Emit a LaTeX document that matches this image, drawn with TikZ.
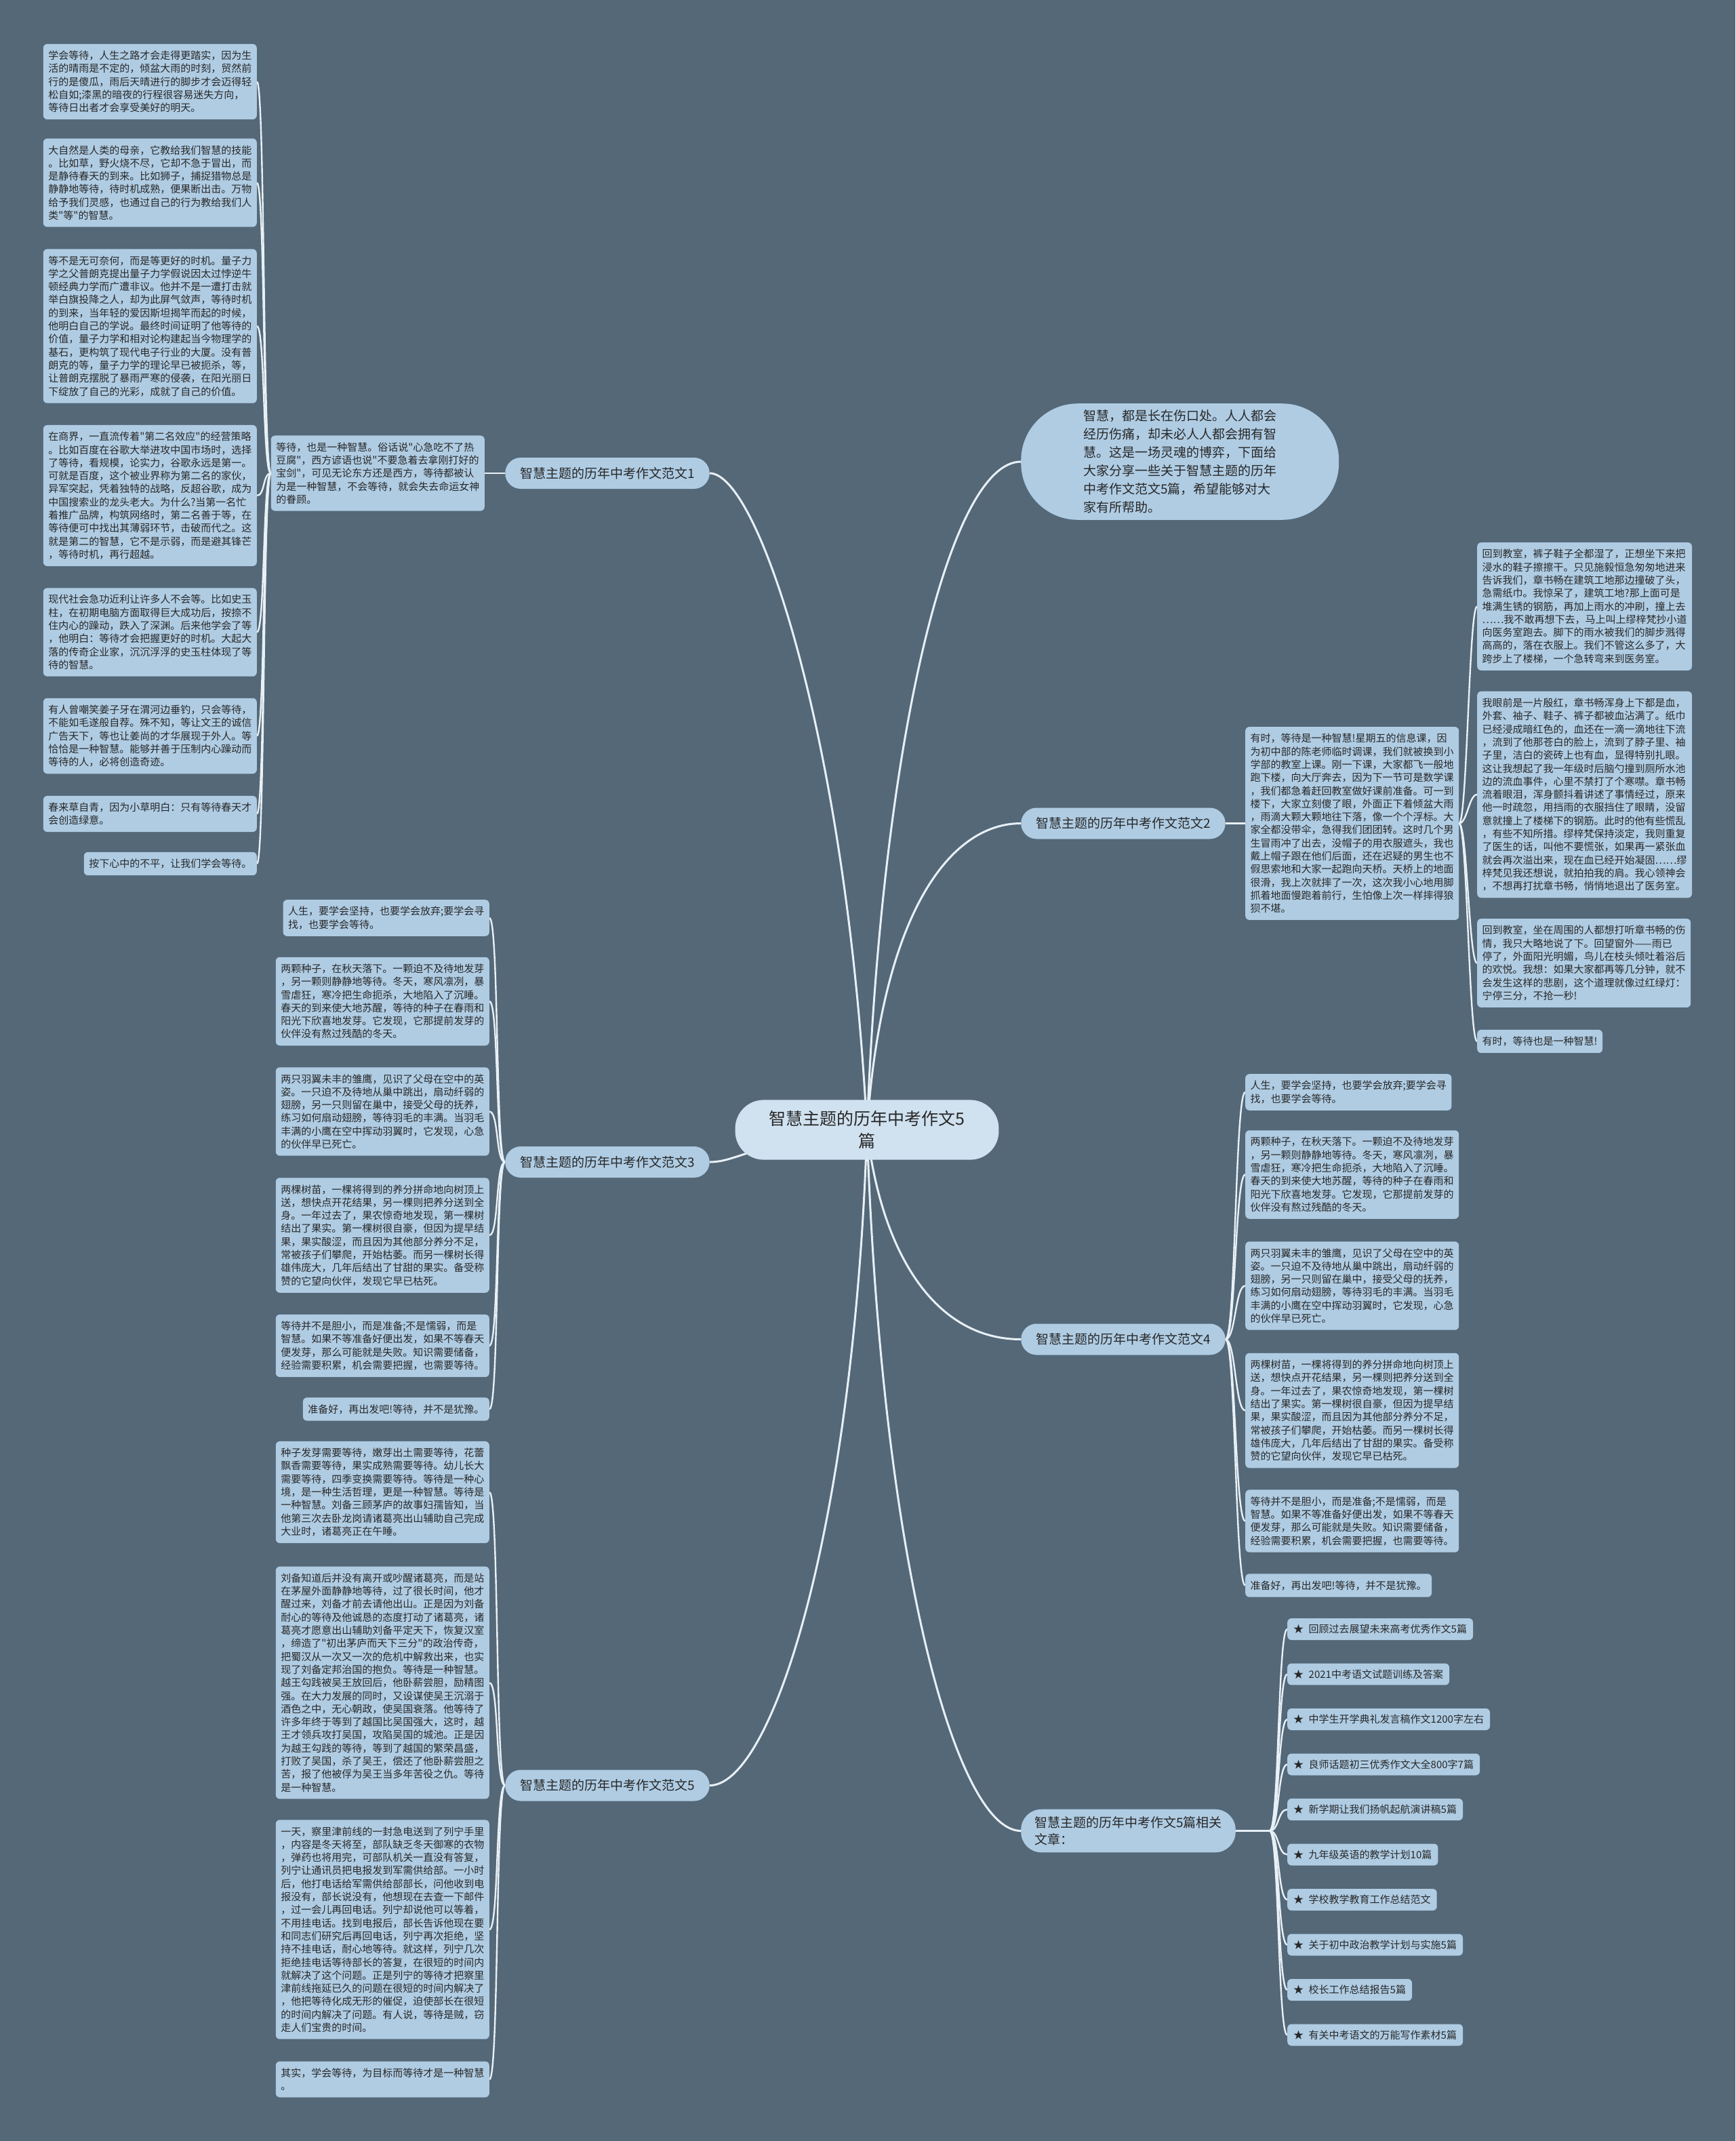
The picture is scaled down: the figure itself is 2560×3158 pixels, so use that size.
\documentclass[tikz,border=0pt]{standalone}
\usepackage{fontspec}
\newfontfamily\cjk{Noto Sans CJK SC}
\definecolor{bgslate}{RGB}{84,104,120}
\definecolor{leafblue}{RGB}{175,204,227}
\definecolor{hubblue}{RGB}{208,226,240}
\definecolor{inkgray}{RGB}{40,40,40}
\definecolor{wire}{RGB}{232,240,246}
\pgfdeclarelayer{wires}
\pgfsetlayers{wires,main}
% texts shared by branch 3 and branch 4
\newcommand\txtlife{人生，要学会坚持，也要学会放弃;要学会寻\\找，也要学会等待。}
\newcommand\txtseeds{两颗种子，在秋天落下。一颗迫不及待地发芽\\，另一颗则静静地等待。冬天，寒风凛冽，暴\\雪虐狂，寒冷把生命扼杀，大地陷入了沉睡。\\春天的到来使大地苏醒，等待的种子在春雨和\\阳光下欣喜地发芽。它发现，它那提前发芽的\\伙伴没有熬过残酷的冬天。}
\newcommand\txteagles{两只羽翼未丰的雏鹰，见识了父母在空中的英\\姿。一只迫不及待地从巢中跳出，扇动纤弱的\\翅膀，另一只则留在巢中，接受父母的抚养，\\练习如何扇动翅膀，等待羽毛的丰满。当羽毛\\丰满的小鹰在空中挥动羽翼时，它发现，心急\\的伙伴早已死亡。}
\newcommand\txttrees{两棵树苗，一棵将得到的养分拼命地向树顶上\\送，想快点开花结果，另一棵则把养分送到全\\身。一年过去了，果农惊奇地发现，第一棵树\\结出了果实。第一棵树很自豪，但因为提早结\\果，果实酸涩，而且因为其他部分养分不足，\\常被孩子们攀爬，开始枯萎。而另一棵树长得\\雄伟庞大，几年后结出了甘甜的果实。备受称\\赞的它望向伙伴，发现它早已枯死。}
\newcommand\txtready{等待并不是胆小，而是准备;不是懦弱，而是\\智慧。如果不等准备好便出发，如果不等春天\\便发芽，那么可能就是失败。知识需要储备，\\经验需要积累，机会需要把握，也需要等待。}
\newcommand\txtgo{准备好，再出发吧!等待，并不是犹豫。}
\begin{document}
\begin{tikzpicture}[
    x=1pt, y=-1pt,
    every node/.style={text=inkgray},
    leaf/.style={fill=leafblue, rounded corners=6pt, align=left,
        inner xsep=7.5pt, inner ysep=10pt, font=\cjk\fontsize{15}{19.3}\selectfont},
    linkbox/.style={leaf, inner xsep=9pt, inner ysep=9pt},
    limb/.style={fill=leafblue, rounded corners=23pt, minimum height=46pt,
        inner xsep=22pt, inner ysep=4pt, font=\cjk\fontsize{19}{25}\selectfont},
    hub/.style={fill=hubblue, rounded corners=42pt, align=center,
        inner xsep=50pt, inner ysep=16pt, font=\cjk\fontsize{25}{33}\selectfont},
    intro/.style={fill=leafblue, rounded corners=84pt, align=left,
        inner xsep=92pt, inner ysep=9.5pt, font=\cjk\fontsize{19}{27}\selectfont},
    trunk/.style={draw=wire, line width=3pt},
    twig/.style={draw=wire, line width=2.4pt}
]
\useasboundingbox (0,0) rectangle (2560,3158);

% Centre
\node[hub] (cen) at (1279,1666.5) {智慧主题的历年中考作文5\\篇};

% Intro
\node[intro, anchor=west] (intro) at (1506,681) {智慧，都是长在伤口处。人人都会\\
经历伤痛，却未必人人都会拥有智\\
慧。这是一场灵魂的博弈，下面给\\
大家分享一些关于智慧主题的历年\\
中考作文范文5篇，希望能够对大\\
家有所帮助。};

% Branches
\node[limb, anchor=west] (b1) at (745,698) {智慧主题的历年中考作文范文1};
\node[limb, anchor=west] (b2) at (1506,1214.5) {智慧主题的历年中考作文范文2};
\node[limb, anchor=west] (b3) at (745,1714) {智慧主题的历年中考作文范文3};
\node[limb, anchor=west] (b4) at (1506,1975.5) {智慧主题的历年中考作文范文4};
\node[limb, anchor=west] (b5) at (745,2633.5) {智慧主题的历年中考作文范文5};
\node[limb, anchor=west, align=left, rounded corners=30pt, inner xsep=20pt,
    inner ysep=10.5pt] (rel) at (1506,2700.5) {智慧主题的历年中考作文5篇相关\\文章：};

% Branch 1
\node[leaf, anchor=east] (m1) at (715,698) {等待，也是一种智慧。俗话说"心急吃不了热\\
豆腐"，西方谚语也说"不要急着去拿刚打好的\\
宝剑"，可见无论东方还是西方，等待都被认\\
为是一种智慧，不会等待，就会失去命运女神\\
的眷顾。};
\node[leaf, anchor=east] (l1a) at (379,120.5) {学会等待，人生之路才会走得更踏实，因为生\\
活的晴雨是不定的，倾盆大雨的时刻，贸然前\\
行的是傻瓜，雨后天晴进行的脚步才会迈得轻\\
松自如;漆黑的暗夜的行程很容易迷失方向，\\
等待日出者才会享受美好的明天。};
\node[leaf, anchor=east] (l1b) at (379,269.5) {大自然是人类的母亲，它教给我们智慧的技能\\
。比如草，野火烧不尽，它却不急于冒出，而\\
是静待春天的到来。比如狮子，捕捉猎物总是\\
静静地等待，待时机成熟，便果断出击。万物\\
给予我们灵感，也通过自己的行为教给我们人\\
类"等"的智慧。};
\node[leaf, anchor=east] (l1c) at (379,481) {等不是无可奈何，而是等更好的时机。量子力\\
学之父普朗克提出量子力学假说因太过悖逆牛\\
顿经典力学而广遭非议。他并不是一遭打击就\\
举白旗投降之人，却为此屏气敛声，等待时机\\
的到来，当年轻的爱因斯坦揭竿而起的时候，\\
他明白自己的学说。最终时间证明了他等待的\\
价值，量子力学和相对论构建起当今物理学的\\
基石，更构筑了现代电子行业的大厦。没有普\\
朗克的等，量子力学的理论早已被扼杀，等，\\
让普朗克摆脱了暴雨严寒的侵袭，在阳光丽日\\
下绽放了自己的光彩，成就了自己的价值。};
\node[leaf, anchor=east] (l1d) at (379,731) {在商界，一直流传着"第二名效应"的经营策略\\
。比如百度在谷歌大举进攻中国市场时，选择\\
了等待，看规模，论实力，谷歌永远是第一。\\
可就是百度，这个被业界称为第二名的家伙，\\
异军突起，凭着独特的战略，反超谷歌，成为\\
中国搜索业的龙头老大。为什么?当第一名忙\\
着推广品牌，构筑网络时，第二名善于等，在\\
等待便可中找出其薄弱环节，击破而代之。这\\
就是第二的智慧，它不是示弱，而是避其锋芒\\
，等待时机，再行超越。};
\node[leaf, anchor=east] (l1e) at (379,932.5) {现代社会急功近利让许多人不会等。比如史玉\\
柱，在初期电脑方面取得巨大成功后，按捺不\\
住内心的躁动，跌入了深渊。后来他学会了等\\
，他明白：等待才会把握更好的时机。大起大\\
落的传奇企业家，沉沉浮浮的史玉柱体现了等\\
待的智慧。};
\node[leaf, anchor=east] (l1f) at (379,1085.5) {有人曾嘲笑姜子牙在渭河边垂钓，只会等待，\\
不能如毛遂般自荐。殊不知，等让文王的诚信\\
广告天下，等也让姜尚的才华展现于外人。等\\
恰恰是一种智慧。能够并善于压制内心躁动而\\
等待的人，必将创造奇迹。};
\node[leaf, anchor=east] (l1g) at (379,1200.5) {春来草自青，因为小草明白：只有等待春天才\\
会创造绿意。};
\node[leaf, anchor=east] (l1h) at (379,1274) {按下心中的不平，让我们学会等待。};

% Branch 2
\node[leaf, anchor=west] (m2) at (1837,1214.5) {有时，等待是一种智慧!星期五的信息课，因\\
为初中部的陈老师临时调课，我们就被换到小\\
学部的教室上课。刚一下课，大家都飞一般地\\
跑下楼，向大厅奔去，因为下一节可是数学课\\
，我们都急着赶回教室做好课前准备。可一到\\
楼下，大家立刻傻了眼，外面正下着倾盆大雨\\
，雨滴大颗大颗地往下落，像一个个浮标。大\\
家全都没带伞，急得我们团团转。这时几个男\\
生冒雨冲了出去，没帽子的用衣服遮头，我也\\
戴上帽子跟在他们后面，还在迟疑的男生也不\\
假思索地和大家一起跑向天桥。天桥上的地面\\
很滑，我上次就摔了一次，这次我小心地用脚\\
抓着地面慢跑着前行，生怕像上次一样摔得狼\\
狈不堪。};
\node[leaf, anchor=west] (r2a) at (2179,894.5) {回到教室，裤子鞋子全都湿了，正想坐下来把\\
浸水的鞋子擦擦干。只见施毅恒急匆匆地进来\\
告诉我们，章书畅在建筑工地那边撞破了头，\\
急需纸巾。我惊呆了，建筑工地?那上面可是\\
堆满生锈的钢筋，再加上雨水的冲刷，撞上去\\
……我不敢再想下去，马上叫上缪梓梵抄小道\\
向医务室跑去。脚下的雨水被我们的脚步溅得\\
高高的，落在衣服上。我们不管这么多了，大\\
跨步上了楼梯，一个急转弯来到医务室。};
\node[leaf, anchor=west] (r2b) at (2179,1172) {我眼前是一片殷红，章书畅浑身上下都是血，\\
外套、袖子、鞋子、裤子都被血沾满了。纸巾\\
已经浸成暗红色的，血还在一滴一滴地往下流\\
，流到了他那苍白的脸上，流到了脖子里、袖\\
子里，洁白的瓷砖上也有血，显得特别扎眼。\\
这让我想起了我一年级时后脑勺撞到厕所水池\\
边的流血事件，心里不禁打了个寒噤。章书畅\\
流着眼泪，浑身颤抖着讲述了事情经过，原来\\
他一时疏忽，用挡雨的衣服挡住了眼睛，没留\\
意就撞上了楼梯下的钢筋。此时的他有些慌乱\\
，有些不知所措。缪梓梵保持淡定，我则重复\\
了医生的话，叫他不要慌张，如果再一紧张血\\
就会再次溢出来，现在血已经开始凝固……缪\\
梓梵见我还想说，就拍拍我的肩。我心领神会\\
，不想再打扰章书畅，悄悄地退出了医务室。};
\node[leaf, anchor=west] (r2c) at (2179,1420.5) {回到教室，坐在周围的人都想打听章书畅的伤\\
情，我只大略地说了下。回望窗外——雨已\\
停了，外面阳光明媚，鸟儿在枝头倾吐着浴后\\
的欢悦。我想：如果大家都再等几分钟，就不\\
会发生这样的悲剧，这个道理就像过红绿灯：\\
宁停三分，不抢一秒!};
\node[leaf, anchor=west] (r2d) at (2179,1536) {有时，等待也是一种智慧!};

% Branch 3
\node[leaf, anchor=east] (l3a) at (722,1354) {\txtlife};
\node[leaf, anchor=east] (l3b) at (722,1477) {\txtseeds};
\node[leaf, anchor=east] (l3c) at (722,1639.5) {\txteagles};
\node[leaf, anchor=east] (l3d) at (722,1822) {\txttrees};
\node[leaf, anchor=east] (l3e) at (722,1985) {\txtready};
\node[leaf, anchor=east] (l3f) at (722,2078.5) {\txtgo};

% Branch 4
\node[leaf, anchor=west] (r4a) at (1837,1611) {\txtlife};
\node[leaf, anchor=west] (r4b) at (1837,1732.5) {\txtseeds};
\node[leaf, anchor=west] (r4c) at (1837,1896.5) {\txteagles};
\node[leaf, anchor=west] (r4d) at (1837,2080.5) {\txttrees};
\node[leaf, anchor=west] (r4e) at (1837,2243.5) {\txtready};
\node[leaf, anchor=west] (r4f) at (1837,2338.5) {\txtgo};

% Branch 5
\node[leaf, anchor=east] (l5a) at (722,2201) {种子发芽需要等待，嫩芽出土需要等待，花蕾\\
飘香需要等待，果实成熟需要等待。幼儿长大\\
需要等待，四季变换需要等待。等待是一种心\\
境，是一种生活哲理，更是一种智慧。等待是\\
一种智慧。刘备三顾茅庐的故事妇孺皆知，当\\
他第三次去卧龙岗请诸葛亮出山辅助自己完成\\
大业时，诸葛亮正在午睡。};
\node[leaf, anchor=east] (l5b) at (722,2482) {刘备知道后并没有离开或吵醒诸葛亮，而是站\\
在茅屋外面静静地等待，过了很长时间，他才\\
醒过来，刘备才前去请他出山。正是因为刘备\\
耐心的等待及他诚恳的态度打动了诸葛亮，诸\\
葛亮才愿意出山辅助刘备平定天下，恢复汉室\\
，缔造了"初出茅庐而天下三分"的政治传奇，\\
把蜀汉从一次又一次的危机中解救出来，也实\\
现了刘备定邦治国的抱负。等待是一种智慧。\\
越王勾践被吴王放回后，他卧薪尝胆，励精图\\
强。在大力发展的同时，又设谋使吴王沉溺于\\
酒色之中，无心朝政，使吴国衰落。他等待了\\
许多年终于等到了越国比吴国强大，这时，越\\
王才领兵攻打吴国，攻陷吴国的城池。正是因\\
为越王勾践的等待，等到了越国的繁荣昌盛，\\
打败了吴国，杀了吴王，偿还了他卧薪尝胆之\\
苦，报了他被俘为吴王当多年苦役之仇。等待\\
是一种智慧。};
\node[leaf, anchor=east] (l5c) at (722,2846) {一天，察里津前线的一封急电送到了列宁手里\\
，内容是冬天将至，部队缺乏冬天御寒的衣物\\
，弹药也将用完，可部队机关一直没有答复，\\
列宁让通讯员把电报发到军需供给部。一小时\\
后，他打电话给军需供给部部长，问他收到电\\
报没有，部长说没有，他想现在去查一下邮件\\
，过一会儿再回电话。列宁却说他可以等着，\\
不用挂电话。找到电报后，部长告诉他现在要\\
和同志们研究后再回电话，列宁再次拒绝，坚\\
持不挂电话，耐心地等待。就这样，列宁几次\\
拒绝挂电话等待部长的答复，在很短的时间内\\
就解决了这个问题。正是列宁的等待才把察里\\
津前线拖延已久的问题在很短的时间内解决了\\
，他把等待化成无形的催促，迫使部长在很短\\
的时间内解决了问题。有人说，等待是贼，窃\\
走人们宝贵的时间。};
\node[leaf, anchor=east] (l5d) at (722,3067) {其实，学会等待，为目标而等待才是一种智慧\\
。};

% Related articles
\foreach \n/\t in {1/回顾过去展望未来高考优秀作文5篇, 2/2021中考语文试题训练及答案,
    3/中学生开学典礼发言稿作文1200字左右, 4/良师话题初三优秀作文大全800字7篇,
    5/新学期让我们扬帆起航演讲稿5篇, 6/九年级英语的教学计划10篇,
    7/学校教学教育工作总结范文, 8/关于初中政治教学计划与实施5篇,
    9/校长工作总结报告5篇, 10/有关中考语文的万能写作素材5篇}
  \node[linkbox, anchor=west] (k\n) at (1899,{2403+(\n-1)*66.5}) {★\enspace\t};

% Connectors
\begin{pgfonlayer}{wires}
\fill[bgslate] (0,0) rectangle (2560,3158);
\draw[trunk] (cen.center) .. controls (1250,1100) and (1120,698) .. (b1.east);
\draw[trunk] (cen.center) .. controls (1300,1100) and (1400,681) .. (intro.west);
\draw[trunk] (cen.center) .. controls (1300,1350) and (1400,1214.5) .. (b2.west);
\draw[trunk] (cen.center) .. controls (1120,1680) and (1090,1714) .. (b3.east);
\draw[trunk] (cen.center) .. controls (1300,1850) and (1380,1975.5) .. (b4.west);
\draw[trunk] (cen.center) .. controls (1260,2250) and (1140,2633.5) .. (b5.east);
\draw[trunk] (cen.center) .. controls (1300,2300) and (1410,2700.5) .. (rel.west);

\draw[twig] (b1.west) -- (m1.east);
\foreach \n in {a,...,h}
  \draw[twig] (m1.west) .. controls +(-12,0) and +(12,0) .. (l1\n.east);
\draw[twig] (b2.east) -- (m2.west);
\foreach \n in {a,...,d}
  \draw[twig] (m2.east) .. controls +(12,0) and +(-12,0) .. (r2\n.west);
\foreach \n in {a,...,f}
  \draw[twig] (b3.west) .. controls +(-14,0) and +(14,0) .. (l3\n.east);
\foreach \n in {a,...,f}
  \draw[twig] (b4.east) .. controls +(15,0) and +(-15,0) .. (r4\n.west);
\foreach \n in {a,...,d}
  \draw[twig] (b5.west) .. controls +(-14,0) and +(14,0) .. (l5\n.east);
\foreach \n in {1,...,10}
  \draw[twig] (rel.east) -- ++(50,0) .. controls +(14,0) and +(-14,0) .. (k\n.west);
\end{pgfonlayer}
\end{tikzpicture}
\end{document}
